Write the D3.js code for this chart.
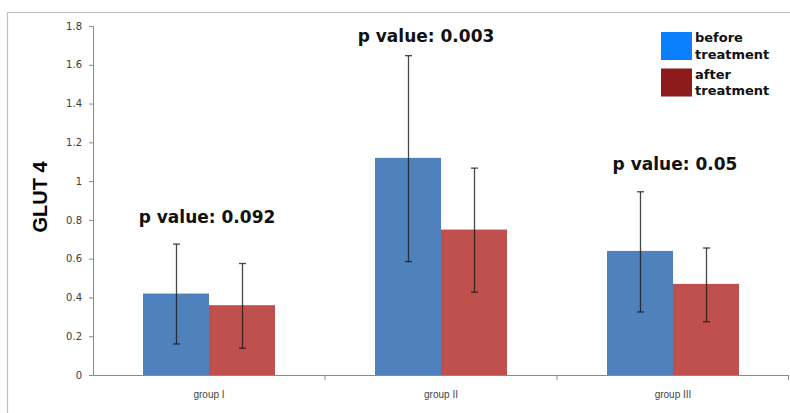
<!DOCTYPE html>
<html><head><meta charset="utf-8">
<script src="https://cdn.jsdelivr.net/npm/d3@7"></script>
<style>body{margin:0;background:#fff}svg{display:block}</style>
</head><body><svg id="c" width="790" height="413"></svg>
<script>
const groups = ["group I", "group II", "group III"];
const seriesNames = ["before treatment", "after treatment"];
const before = [0.42, 1.12, 0.64];
const after = [0.36, 0.75, 0.47];
const beforeLow = [0.16, 0.585, 0.325];
const beforeHigh = [0.675, 1.647, 0.945];
const afterLow = [0.138, 0.427, 0.275];
const afterHigh = [0.575, 1.067, 0.655];
const pLabels = ["p value: 0.092", "p value: 0.003", "p value: 0.05"];
const pLabelY = [0.785, 1.715, 1.055];
const pLabelShift = [-2, -15, 2];
const yTicks = [0, 0.2, 0.4, 0.6, 0.8, 1, 1.2, 1.4, 1.6, 1.8];

const svg = d3.select("#c");
const x0 = 93, x1 = 789, yTop = 26, yBot = 375;
const x = d3.scaleBand().domain(groups).range([x0, x1]).paddingInner(0).paddingOuter(0);
const xs = d3.scaleBand().domain([0, 1]).range([50, 182]).padding(0);
const y = d3.scaleLinear().domain([0, 1.8]).range([yBot, yTop]);

// outer frame
svg.append("path").attr("d", "M7.5,413 V12.5 H790").attr("fill", "none").attr("stroke", "#bdbdbd").attr("stroke-width", 1.2);

// y axis
const ya = svg.append("g").attr("transform", `translate(${x0},0)`)
  .call(d3.axisLeft(y).tickValues(yTicks).tickFormat(d => String(d)).tickSize(4).tickPadding(7));
ya.select(".domain").attr("stroke", "#8a8a8a");
ya.selectAll(".tick line").attr("stroke", "#8a8a8a");
ya.selectAll("text").attr("font-family", "DejaVu Sans, Verdana, sans-serif").attr("font-size", 10).attr("fill", "#3a3a3a");

// x axis
const xa = svg.append("g").attr("transform", `translate(0,${yBot})`)
  .call(d3.axisBottom(x).tickSize(0).tickPadding(16));
xa.select(".domain").attr("stroke", "#8a8a8a").attr("d", `M${x0},0.5H${x1}`);
xa.selectAll("text").attr("font-family", "Liberation Sans, Arial, sans-serif").attr("font-size", 10).attr("fill", "#444").attr("dy", "0.71em");
// category separators
const sep = [x0 + x.bandwidth(), x0 + 2 * x.bandwidth(), x1 - 0.5];
svg.append("g").selectAll("line").data(sep).join("line")
  .attr("x1", d => d).attr("x2", d => d).attr("y1", yBot).attr("y2", yBot + 5)
  .attr("stroke", "#8a8a8a");

const data = groups.map((g, i) => [
  { g, s: 0, v: before[i], lo: beforeLow[i], hi: beforeHigh[i] },
  { g, s: 1, v: after[i], lo: afterLow[i], hi: afterHigh[i] }
]).flat();
const barColors = ["#4f81bd", "#c0504d"];

svg.append("g").selectAll("rect").data(data).join("rect")
  .attr("x", d => x(d.g) + xs(d.s))
  .attr("y", d => y(d.v))
  .attr("width", xs.bandwidth())
  .attr("height", d => y(0) - y(d.v))
  .attr("fill", d => barColors[d.s]);

const eb = svg.append("g").attr("stroke", "#1a1a1a").attr("stroke-opacity", 0.8).attr("stroke-width", 1.3);
data.forEach(d => {
  const cx = Math.round(x(d.g) + xs(d.s) + xs.bandwidth() / 2) + 0.5;
  eb.append("line").attr("x1", cx).attr("x2", cx).attr("y1", y(d.hi)).attr("y2", y(d.lo));
  eb.append("line").attr("x1", cx - 3.5).attr("x2", cx + 3.5).attr("y1", y(d.hi)).attr("y2", y(d.hi));
  eb.append("line").attr("x1", cx - 3.5).attr("x2", cx + 3.5).attr("y1", y(d.lo)).attr("y2", y(d.lo));
});

// p values
svg.append("g").selectAll("text").data(groups).join("text")
  .attr("x", (g, i) => x(g) + x.bandwidth() / 2 + pLabelShift[i])
  .attr("y", (g, i) => y(pLabelY[i]))
  .attr("text-anchor", "middle")
  .attr("font-family", "DejaVu Sans, Verdana, sans-serif")
  .attr("font-weight", "bold").attr("font-size", 17).attr("fill", "#111")
  .text((g, i) => pLabels[i]);

// y label
svg.append("text").attr("transform", "translate(47,197) rotate(-90)")
  .attr("text-anchor", "middle")
  .attr("font-family", "Liberation Sans, Arial, sans-serif")
  .attr("font-weight", "bold").attr("font-size", 20).attr("fill", "#000")
  .text("GLUT 4");

// legend
const legColors = ["#0a80ff", "#8e1b1b"];
const leg = svg.append("g");
seriesNames.forEach((n, i) => {
  const gy = 32 + i * 36.5;
  leg.append("rect").attr("x", 661).attr("y", gy).attr("width", 31).attr("height", 28).attr("fill", legColors[i]);
  const words = n.split(" ");
  const t = leg.append("text").attr("font-family", "DejaVu Sans, Verdana, sans-serif")
    .attr("font-weight", "bold").attr("font-size", 13).attr("fill", "#111");
  words.forEach((w, k) => t.append("tspan").attr("x", 695).attr("y", gy + 10 + k * 16.5).text(w));
});
</script></body></html>
